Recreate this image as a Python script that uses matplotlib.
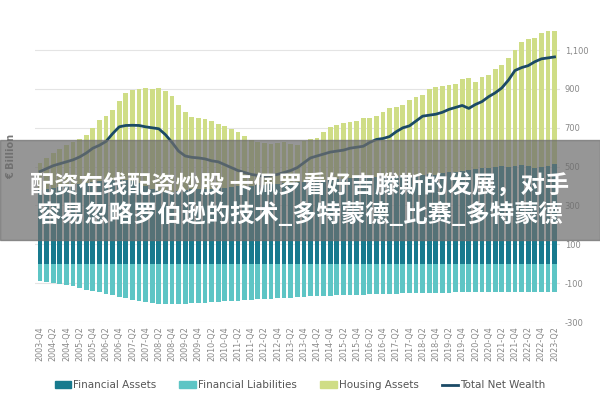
import numpy as np
import matplotlib.pyplot as plt
from matplotlib import font_manager as fm
from matplotlib.lines import Line2D
from matplotlib.patches import Patch, Rectangle

# --- data (quarterly, 2003-Q4 .. 2023-Q2), EUR billion ---
quarters = [f"{y}-Q{q}" for y in range(2003, 2024) for q in (1, 2, 3, 4)]
quarters = quarters[quarters.index("2003-Q4"):quarters.index("2023-Q2") + 1]

housing = [520, 545, 570, 590, 610, 625, 640, 665, 700, 740, 760, 790, 840, 880, 895, 900,
           905, 900, 905, 890, 865, 820, 780, 755, 750, 745, 735, 720, 710, 695, 680, 660,
           635, 625, 620, 615, 620, 625, 615, 612, 630, 640, 650, 680, 705, 715, 725, 730,
           735, 750, 750, 760, 780, 800, 805, 815, 845, 860, 870, 900, 910, 915, 920, 925,
           950, 955, 935, 960, 970, 1005, 1025, 1060, 1100, 1140, 1155, 1165, 1190, 1200, 1200]

fin_assets = [380, 385, 390, 395, 400, 405, 410, 415, 420, 425, 428, 430, 432, 430, 425, 415,
              400, 385, 375, 370, 372, 375, 380, 383, 385, 385, 387, 390, 392, 395, 398, 400,
              402, 405, 408, 410, 413, 415, 418, 420, 423, 425, 428, 430, 432, 435, 437, 440,
              442, 444, 446, 448, 450, 452, 454, 455, 456, 457, 458, 460, 455, 465, 470, 475,
              480, 485, 488, 492, 495, 500, 505, 500, 505, 510, 505, 495, 500, 505, 512]

fin_liab = [-90, -95, -100, -105, -110, -117, -125, -133, -140, -148, -155, -163, -170, -178, -185, -192,
            -197, -202, -205, -206, -207, -207, -206, -204, -202, -200, -198, -196, -194, -192, -190, -188,
            -186, -184, -182, -180, -178, -176, -174, -172, -170, -168, -166, -165, -164, -163, -162, -161,
            -160, -159, -158, -157, -156, -155, -154, -153, -153, -152, -151, -150, -150, -149, -149, -148,
            -148, -147, -147, -147, -147, -147, -147, -147, -147, -147, -147, -147, -147, -147, -147]

net_wealth = [475, 490, 505, 515, 525, 535, 550, 570, 595, 610, 630, 670, 705, 712, 713, 712,
              705, 700, 695, 665, 625, 580, 555, 548, 545, 540, 530, 525, 510, 495, 480, 470,
              460, 455, 450, 455, 460, 470, 480, 495, 520, 545, 555, 565, 575, 580, 585, 595,
              600, 605, 625, 640, 645, 655, 680, 700, 710, 735, 760, 765, 770, 780, 795, 805,
              815, 800, 820, 835, 860, 880, 905, 945, 995, 1010, 1020, 1040, 1055, 1060, 1065]

c_housing = "#cfdd86"
c_assets = "#187a8e"
c_liab = "#5ec5c5"
c_net = "#1b4a66"

# pick a CJK sans font file directly (bold if present)
cjk = [f for f in fm.findSystemFonts() if "CJK" in f and "Sans" in f and "Mono" not in f]
bold = [f for f in cjk if "Bold" in f]
cjk_prop = fm.FontProperties(fname=(bold or cjk)[0]) if cjk else fm.FontProperties(family="Noto Sans CJK SC")

fig = plt.figure(figsize=(6, 4), dpi=100)
ax = fig.add_axes([0.058, 0.195, 0.875, 0.7525])

x = np.arange(len(quarters))
ax.bar(x, housing, width=0.72, color=c_housing, zorder=2)
ax.bar(x, fin_assets, width=0.72, color=c_assets, zorder=3)
ax.bar(x, fin_liab, width=0.72, color=c_liab, zorder=3)
ax.plot(x, net_wealth, color=c_net, lw=2, zorder=4)

ax.set_ylim(-300, 1250)
ax.set_xlim(-0.8, len(x) - 0.2)
ax.set_yticks(range(-300, 1101, 200))
ax.set_yticklabels([f"{v:,}" for v in range(-300, 1101, 200)])
ax.yaxis.tick_right()
ax.grid(axis="y", color="#e4e4e4", lw=0.8, zorder=0)
ax.set_xticks(x[::2])
ax.set_xticklabels(quarters[::2], rotation=90, fontsize=5.8, color="#888888")
ax.tick_params(axis="y", labelsize=6, colors="#888888", length=0)
ax.tick_params(axis="x", length=0, pad=3)
for s in ax.spines.values():
    s.set_visible(False)
ax.set_ylabel("€ Billion", fontsize=7, color="#777777", fontweight="bold")
ax.yaxis.set_label_coords(-0.035, 0.55)

handles = [Patch(color=c_assets), Patch(color=c_liab), Patch(color=c_housing),
           Line2D([], [], color=c_net, lw=2)]
fig.legend(handles, ["Financial Assets", "Financial Liabilities", "Housing Assets", "Total Net Wealth"],
           loc="center", bbox_to_anchor=(0.5, 0.037), ncol=4, frameon=False, fontsize=7.5,
           handlelength=1.6, handletextpad=0.2, columnspacing=2.2, labelcolor="#555555")

# overlay banner
fig.patches.append(Rectangle((0, 0.4), 1, 0.25, transform=fig.transFigure,
                             color="#6e6e6e", alpha=0.72, zorder=10))
cjk_prop.set_size(17.5)
cjk_prop.set_weight("bold")
fig.text(0.5, 0.537, "配资在线配资炒股 卡佩罗看好吉滕斯的发展，对手", ha="center", va="center",
         fontproperties=cjk_prop, color="white", zorder=11)
fig.text(0.5, 0.465, "容易忽略罗伯逊的技术_多特蒙德_比赛_多特蒙德", ha="center", va="center",
         fontproperties=cjk_prop, color="white", zorder=11)

fig.savefig("out.png", dpi=100)
